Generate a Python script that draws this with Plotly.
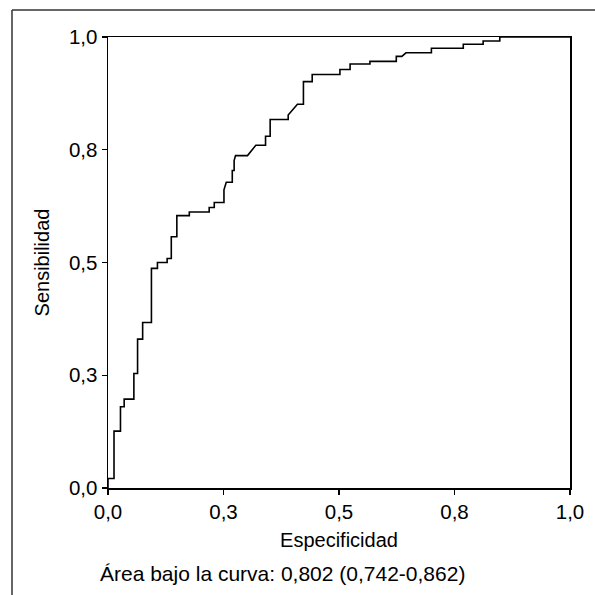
import plotly.graph_objects as go

# ROC curve vertices (x: "Especificidad" axis, y: sensitivity)
fpr = [0.000, 0.000, 0.013, 0.013, 0.027, 0.027, 0.035, 0.035, 0.056, 0.056,
       0.064, 0.064, 0.075, 0.075, 0.094, 0.094, 0.107, 0.107, 0.128, 0.128,
       0.137, 0.137, 0.149, 0.149, 0.176, 0.176, 0.219, 0.219, 0.230, 0.230,
       0.251, 0.251, 0.256, 0.269, 0.269, 0.273, 0.273, 0.276, 0.302, 0.320,
       0.341, 0.341, 0.351, 0.351, 0.390, 0.390, 0.410, 0.423, 0.423, 0.442,
       0.442, 0.502, 0.502, 0.524, 0.524, 0.567, 0.567, 0.624, 0.624, 0.636,
       0.645, 0.700, 0.700, 0.769, 0.769, 0.812, 0.812, 0.848, 0.848, 1.000]
tpr = [0.000, 0.021, 0.021, 0.126, 0.126, 0.180, 0.180, 0.197, 0.197, 0.254,
       0.254, 0.330, 0.330, 0.367, 0.367, 0.487, 0.487, 0.500, 0.500, 0.509,
       0.509, 0.557, 0.557, 0.604, 0.604, 0.612, 0.612, 0.622, 0.622, 0.633,
       0.633, 0.661, 0.678, 0.678, 0.704, 0.704, 0.726, 0.737, 0.737, 0.760,
       0.760, 0.780, 0.780, 0.817, 0.817, 0.827, 0.851, 0.851, 0.901, 0.901,
       0.917, 0.917, 0.928, 0.928, 0.940, 0.940, 0.946, 0.946, 0.957, 0.957,
       0.965, 0.965, 0.975, 0.975, 0.984, 0.984, 0.991, 0.991, 1.000, 1.000]

tick_vals = [0, 0.25, 0.5, 0.75, 1.0]
tick_text = ["0,0", "0,3", "0,5", "0,8", "1,0"]

x_title = "Especificidad"
y_title = "Sensibilidad"
auc_text = "Área bajo la curva: 0,802 (0,742-0,862)"

FONT = "Liberation Sans, Arial, Helvetica, sans-serif"

fig = go.Figure()
fig.add_trace(go.Scatter(x=fpr, y=tpr, mode="lines",
                         line=dict(color="black", width=1.6, shape="linear"),
                         showlegend=False, hoverinfo="skip"))

W = H = 595
L, R, T, B = 108, 25, 37, 107
pw = W - L - R
ph = H - T - B

axis_common = dict(range=[0, 1], tickvals=tick_vals, ticktext=tick_text,
                   ticks="outside", ticklen=5, tickwidth=1.3, tickcolor="black",
                   showline=True, linecolor="black", linewidth=1.5, mirror=True,
                   showgrid=False, zeroline=False,
                   tickfont=dict(family=FONT, size=20.5, color="black"))

fig.update_layout(
    width=W, height=H,
    margin=dict(l=L, r=R, t=T, b=B, pad=0),
    paper_bgcolor="white", plot_bgcolor="white",
    font=dict(family=FONT, size=20, color="black"),
    xaxis=dict(**axis_common, title=dict(text=x_title, standoff=11,
                                         font=dict(family=FONT, size=20))),
    yaxis=dict(**axis_common, title=dict(text=y_title, standoff=14,
                                         font=dict(family=FONT, size=20))),
)

# AUC annotation below the axis title
fig.add_annotation(text=auc_text, xref="paper", yref="paper",
                   x=(282 - L) / pw, y=(T + ph - 573) / ph,
                   xanchor="center", yanchor="middle", showarrow=False,
                   font=dict(family=FONT, size=21, color="black"))

# outer frame (top and left edges visible)
fx = (12 - L) / pw
fy = (T + ph - 10) / ph
fig.add_shape(type="line", xref="paper", yref="paper",
              x0=fx, y0=fy, x1=(W + 10 - L) / pw, y1=fy,
              line=dict(color="#333333", width=1.5))
fig.add_shape(type="line", xref="paper", yref="paper",
              x0=fx, y0=fy, x1=fx, y1=(T + ph - (H + 10)) / ph,
              line=dict(color="#333333", width=1.5))

fig.write_html("out.html",
               config={"displayModeBar": False, "staticPlot": True},
               post_script="document.body.style.margin='0';"
                           "document.body.style.overflow='hidden';")
